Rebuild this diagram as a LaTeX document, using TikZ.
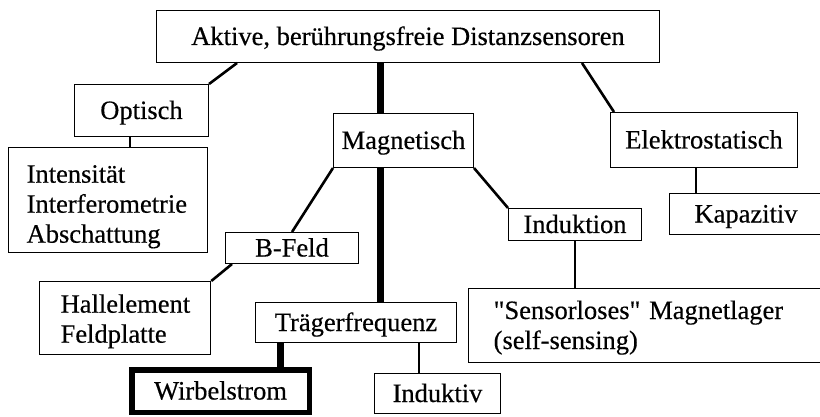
\documentclass[tikz,border=0pt]{standalone}
\usepackage{fontspec}
\setmainfont{Liberation Serif}[Ligatures=TeXOff, FakeBold=0.4]
\usetikzlibrary{calc}
\begin{document}
\begin{tikzpicture}[x=1pt,y=-1pt,
  box/.style={draw, line width=1.3pt, inner sep=0pt, anchor=north west,
    font=\fontsize{26.5}{30}\selectfont, text height=20pt, text depth=3pt},
  listbox/.style={box, align=left, text height=18pt},
  conthin/.style={line width=1.6pt},
  conmid/.style={line width=2.6pt},
  conheavy/.style={line width=7pt}]
\useasboundingbox (0,0) rectangle (820,417);
\clip (0,0) rectangle (820,417);
\fill[white] (0,0) rectangle (820,417);

% boxes
\node[box, minimum width=502.7pt, minimum height=51.7pt] (top) at (156,10) {Aktive, berührungsfreie Distanzsensoren};
\node[box, minimum width=133.7pt, minimum height=51.7pt] (optisch) at (74,84) {Optisch};
\node[listbox, text width=163pt, inner xsep=18pt, minimum height=104.7pt, text depth=52.6pt] (intens) at (8,147) {Intensität\\Interferometrie\\Abschattung};
\node[box, minimum width=139.7pt, minimum height=53.7pt] (magnet) at (333,113) {Magnetisch};
\node[box, minimum width=186.7pt, minimum height=54.7pt] (elektro) at (610,112) {Elektrostatisch};
\node[box, minimum width=152.7pt, minimum height=40.7pt] (kapaz) at (669,193) {Kapazitiv};
\node[box, minimum width=132.7pt, minimum height=30.7pt] (bfeld) at (225,232) {B-Feld};
\node[listbox, text width=129pt, inner xsep=21pt, minimum height=72.7pt, text depth=28.6pt] (hall) at (39,281) {Hallelement\\Feldplatte};
\node[box, minimum width=132.7pt, minimum height=31.7pt] (induktion) at (508,208) {Induktion};
\node[listbox, text width=350pt, inner xsep=25pt, minimum height=73.7pt, text depth=31pt] (sensor) at (468,288) {"Sensorloses" Magnetlager\\(self-sensing)};
\node[box, minimum width=200.7pt, minimum height=39.7pt] (traeger) at (255,302) {Trägerfrequenz};
\node[box, line width=5.5pt, minimum width=177.5pt, minimum height=42.5pt] (wirbel) at (129,367) {Wirbelstrom};
\node[box, minimum width=125.7pt, minimum height=39.7pt] (induktiv) at (374,373) {Induktiv};

% connectors
\draw[conmid] (optisch.north east) -- ($(top.south west)+(81,0)$);
\draw[conthin] ($(optisch.south west)+(56,0)$) coordinate (o1) -- (o1 |- intens.north);
\draw[conheavy] ($(magnet.north)+(-23.5,0)$) coordinate (m1) -- (m1 |- top.south);
\draw[conheavy] ($(magnet.south)+(-23.5,0)$) coordinate (m2) -- (m2 |- traeger.north);
\draw[conmid] ($(top.south west)+(426,0)$) -- ($(elektro.north west)+(4,0)$);
\draw[conmid] ($(elektro.south west)+(86,0)$) coordinate (e1) -- (e1 |- kapaz.north);
\draw[conmid] (magnet.south west) -- (bfeld.north);
\draw[conmid] ($(bfeld.south west)+(7,0)$) -- (hall.north east);
\draw[conmid] (magnet.south east) -- (induktion.north west);
\draw[conmid] (induktion.south) -- (induktion.south |- sensor.north);
\draw[conheavy] ($(traeger.south west)+(25,0)$) coordinate (t1) -- (t1 |- wirbel.north);
\draw[conthin] ($(traeger.south west)+(164,0)$) coordinate (t2) -- (t2 |- induktiv.north);
\end{tikzpicture}
\end{document}
